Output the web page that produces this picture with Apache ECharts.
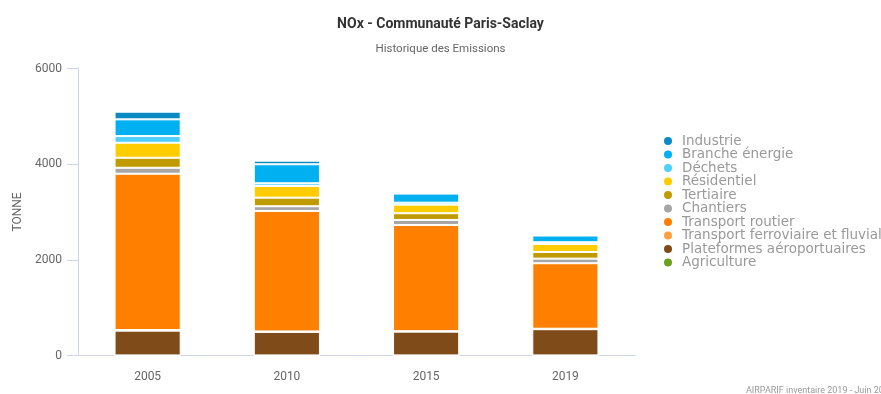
<!DOCTYPE html>
<html><head><meta charset="utf-8">
<script src="https://cdn.jsdelivr.net/npm/echarts@6/dist/echarts.min.js"></script>
<style>html,body{margin:0;padding:0;background:#fff}#c{width:881px;height:394px}</style>
</head><body><div id="c"></div>
<script>
const years = ['2005','2010','2015','2019'];
const agriculture = [2, 2, 2, 2];
const plateformes = [518, 491, 497, 548];
const ferroviaire = [12, 10, 10, 10];
const routier = [3268, 2519, 2220, 1369];
const chantiers = [125, 98, 105, 96];
const tertiaire = [209, 180, 140, 140];
const residentiel = [314, 245, 180, 167];
const dechets = [140, 56, 41, 36];
const branche = [349, 397, 190, 140];
const industrie = [160, 75, 20, 15];
const yTicks = [0, 2000, 4000, 6000];

const seriesDef = [
  ['Agriculture', agriculture, '#6aa121'],
  ['Plateformes aéroportuaires', plateformes, '#7f4c19'],
  ['Transport ferroviaire et fluvial', ferroviaire, '#ffa040'],
  ['Transport routier', routier, '#ff7f00'],
  ['Chantiers', chantiers, '#a6a6a6'],
  ['Tertiaire', tertiaire, '#c09b00'],
  ['Résidentiel', residentiel, '#ffcc00'],
  ['Déchets', dechets, '#4dcfff'],
  ['Branche énergie', branche, '#00b0f0'],
  ['Industrie', industrie, '#0a8ac2']
];
const font = 'Roboto, "Noto Sans", sans-serif';
const chart = echarts.init(document.getElementById('c'), null, {renderer:'canvas'});
chart.setOption({
  animation: false,
  backgroundColor: '#fff',
  title: [
    {text: 'NOx - Communauté Paris-Saclay', left: 'center', top: 12,
     textStyle: {fontFamily: font, fontSize: 14, fontWeight: 'bold', color: '#333'}},
    {text: 'Historique des Emissions', left: 'center', top: 38,
     textStyle: {fontFamily: font, fontSize: 11.5, fontWeight: 'normal', color: '#666'}},
    {text: 'AIRPARIF inventaire 2019 - Juin 2020', left: 741, top: 381,
     textStyle: {fontFamily: font, fontSize: 9, fontWeight: 'normal', color: '#999'}}
  ],
  legend: {
    orient: 'vertical', left: 657, top: 129, itemGap: -0.5,
    icon: 'circle', itemWidth: 18, itemHeight: 10,
    data: seriesDef.map(s => s[0]).reverse(),
    textStyle: {fontFamily: '"DejaVu Sans", Verdana, sans-serif', fontSize: 13.5, color: '#999', lineHeight: 13, padding: [0,0,0,0]}
  },
  grid: {left: 78, right: 246, top: 68.5, bottom: 38.5, containLabel: false},
  xAxis: {
    type: 'category', data: years,
    axisLine: {lineStyle: {color: '#ccd6eb'}},
    axisTick: {show: false},
    axisLabel: {fontFamily: font, fontSize: 12, color: '#666', margin: 15}
  },
  yAxis: {
    type: 'value', min: yTicks[0], max: yTicks[yTicks.length-1], interval: 2000,
    name: 'TONNE', nameLocation: 'middle', nameGap: 53,
    nameTextStyle: {fontFamily: font, fontSize: 12, color: '#666'},
    axisLine: {show: true, lineStyle: {color: '#ccd6eb'}},
    axisTick: {show: true, length: 11, lineStyle: {color: '#ccd6eb'}},
    splitLine: {show: false},
    axisLabel: {fontFamily: font, fontSize: 12, color: '#666', margin: 16, formatter: v => String(v)}
  },
  series: seriesDef.map(s => ({
    name: s[0], type: 'bar', stack: 'total', data: s[1], barWidth: '47.5%',
    itemStyle: {color: s[2], borderColor: '#fff', borderWidth: 1}
  }))
});
</script></body></html>
